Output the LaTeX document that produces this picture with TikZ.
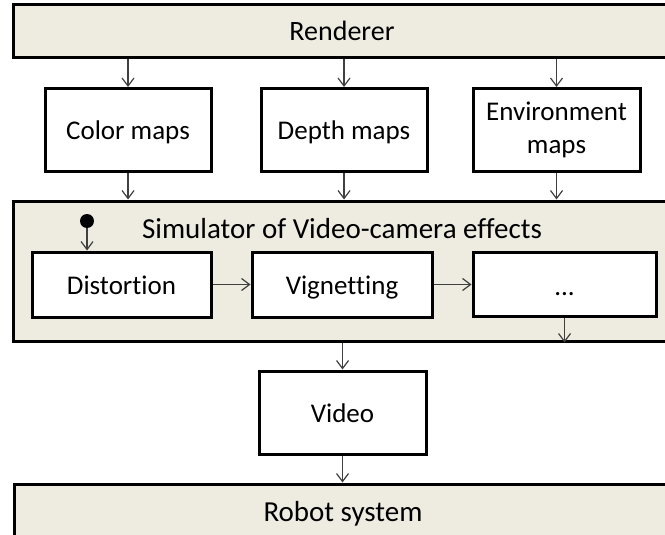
\documentclass[tikz,border=0pt]{standalone}
\usepackage{fontspec}
\setmainfont{Carlito}[Ligatures=NoCommon]
\usetikzlibrary{arrows.meta}
\definecolor{boxfill}{HTML}{EEECE1}
\definecolor{arr}{HTML}{404040}
\begin{document}
\begin{tikzpicture}[x=1pt,y=-1pt,
  txt/.style={font=\fontsize{27}{33}\selectfont, text=black},
  big/.style={font=\fontsize{29}{33}\selectfont, text=black},
  one/.style={text height=21pt, text depth=2pt},
  box/.style={txt, draw=black, line width=3pt, fill=white, inner sep=0pt, align=center},
  wide/.style={draw=black, line width=3pt, fill=boxfill, minimum width=658pt, inner sep=0pt, one},
  arrow/.style={draw=arr, line width=1.2pt, -{Straight Barb[length=8pt,width=12pt,line width=1.2pt]}}]
\useasboundingbox (0,0) rectangle (665,535);
\clip (0,0) rectangle (665,535);
% wide boxes
\node[wide, font=\fontsize{28}{33}\selectfont, minimum height=53pt] (rend) at (342,31.5) {Renderer};
\node[wide, minimum height=140pt] (sim) at (342,271) {};
\node[big, one, inner sep=0pt] (simt) at (342,229) {Simulator of Video-camera effects};
\node[wide, big, minimum height=56pt] (robot) at (343,512) {Robot system};
% maps
\node[box, one, minimum width=166pt, minimum height=83pt] (color) at (128,130) {Color maps};
\node[box, one, minimum width=166pt, minimum height=83pt] (depth) at (344,130) {Depth maps};
\node[box, minimum width=167pt, minimum height=83pt] (env) at (556.5,130) {\raisebox{-2pt}{Environment}\\\raisebox{-2pt}{maps}};
% effects
\node[box, one, minimum width=179pt, minimum height=65pt] (dist) at (121.5,284.5) {Distortion};
\node[box, one, minimum width=180pt, minimum height=65pt] (vign) at (342,284.5) {Vignetting};
\node[box, one, minimum width=183pt, minimum height=64pt] (dots) at (564.5,284) {\raisebox{-2pt}{...}};
\node[circle, fill=black, inner sep=0pt, minimum size=14pt] (dot) at (87,221) {};
% video
\node[box, one, minimum width=167pt, minimum height=83pt] (video) at (342.5,412.5) {Video};
% arrows
\draw[arrow] (rend.south -| color) -- (color.north);
\draw[arrow] (rend.south -| depth) -- (depth.north);
\draw[arrow] (rend.south -| env) -- (env.north);
\draw[arrow] (color.south) -- (color.south |- sim.north);
\draw[arrow] (depth.south) -- (depth.south |- sim.north);
\draw[arrow] (env.south) -- (env.south |- sim.north);
\draw[arrow] (dot.south) -- (dot.south |- dist.north);
\draw[arrow] (dist.east) -- (vign.west);
\draw[arrow] (vign.east) -- (dots.west |- vign.east);
\draw[arrow] (dots.south) -- (dots.south |- sim.south);
\draw[arrow] (sim.south -| video) -- (video.north);
\draw[arrow] (video.south) -- (video.south |- robot.north);
\end{tikzpicture}
\end{document}
